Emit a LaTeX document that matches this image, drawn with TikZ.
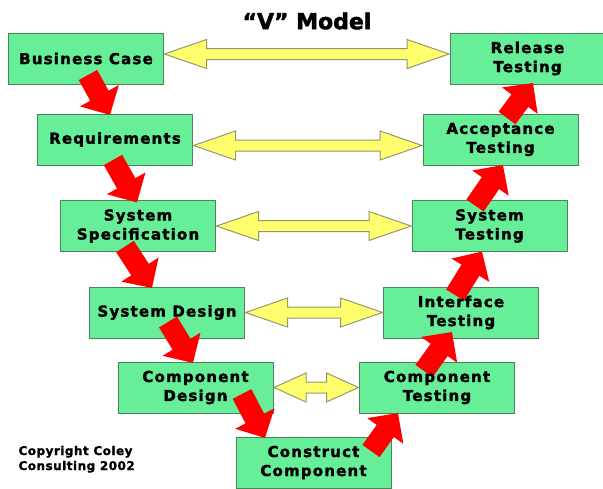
\documentclass[tikz,border=0pt]{standalone}
\usepackage{fontspec}
\setmainfont{DejaVu Sans}[BoldFeatures={FakeBold=2}]
\newfontfamily\vfont{DejaVu Sans}[LetterSpace=8,BoldFeatures={FakeBold=2}]
\newfontfamily\cfont{DejaVu Sans}[LetterSpace=4,BoldFeatures={FakeBold=1.5}]
\usetikzlibrary{calc,arrows.meta}
\definecolor{boxgreen}{RGB}{102,238,153}
\definecolor{boxline}{RGB}{80,130,90}
\definecolor{pale}{RGB}{255,255,110}
\definecolor{paleline}{RGB}{150,150,110}
\pgfdeclarelayer{bg}
\pgfdeclarelayer{mid}
\pgfsetlayers{bg,mid,main}
\tikzset{
  stage/.style={minimum width=155pt,minimum height=51pt,inner sep=0pt,outer sep=0pt,
    align=center,font=\vfont\bfseries\fontsize{15}{19}\selectfont},
  stagebox/.style={fill=boxgreen,draw=boxline,line width=1pt},
  flow/.style={red,line width=21pt,-{Triangle[width=43pt,length=22pt]}},
  pairarrow/.style={fill=pale,draw=paleline,line width=1pt,line join=miter}
}
\newcommand\link[4][42]{%
  \path ($(#2.east)+(1,#4)$) coordinate (l) ($(#3.west)+(-1,#4)$) coordinate (r);
  \draw[pairarrow] (l) -- ++(#1,-14.5) -- ++(0,9) -- ($(r)+(-#1,-5.5)$) -- ++(0,-9) -- (r)
    -- ++(-#1,14.5) -- ++(0,-9) -- ($(l)+(#1,5.5)$) -- ++(0,9) -- cycle;}
\begin{document}
\begin{tikzpicture}[x=1pt,y=-1pt]
\useasboundingbox (0,0) rectangle (603,488);
\node[font=\bfseries\fontsize{22}{26}\selectfont] (title) at (307,21) {“V” Model};
\node[stage] (bc) at (86,58.5) {Business Case};
\node[stage] (req) at (115,139.5) {Requirements};
\node[stage] (ss) at (138,226) {System\\Specification};
\node[stage] (sd) at (167,312.5) {System Design};
\node[stage] (cd) at (195.5,387.5) {Component\\Design};
\node[stage] (cc) at (313.5,462.5) {Construct\\Component};
\node[stage] (ct) at (437,387.5) {Component\\Testing};
\node[stage] (it) at (461,312.5) {Interface\\Testing};
\node[stage] (st) at (489.5,226) {System\\Testing};
\node[stage] (at) at (500.5,139.5) {Acceptance\\Testing};
\node[stage] (rt) at (527.5,58.5) {Release\\Testing};
\node[anchor=base west,align=left,font=\cfont\bfseries\fontsize{12}{15}\selectfont] (copy) at (15,470) {Copyright Coley\\Consulting 2002};
\begin{pgfonlayer}{bg}
\fill[white] (0,0) rectangle (603,488);
\foreach \n in {bc,req,ss,sd,cd,cc,ct,it,st,at,rt}
  \draw[stagebox] (\n.south west) rectangle (\n.north east);
\link{bc}{rt}{-4.5}
\link{req}{at}{6}
\link{ss}{st}{0}
\link{sd}{it}{0}
\link[32]{cd}{ct}{0}
\end{pgfonlayer}
\begin{pgfonlayer}{mid}
\draw[flow] ($(bc.south)+(2,-9)$) -- ($(req.north)+(-5,1)$);
\draw[flow] ($(req.south)+(-2,-5)$) -- ($(ss.north)+(-1,2)$);
\draw[flow] ($(ss.south)+(-13,-5)$) -- ($(sd.north)+(-15,1)$);
\draw[flow] ($(sd.south)+(1,-16)$) -- ($(cd.north)+(-2.5,1)$);
\draw[flow] ($(cd.south)+(46.5,-19)$) -- ($(cc.north)+(-48.5,1)$);
\draw[flow] ($(cc.north)+(57.5,14)$) -- ($(ct.south)+(-39,0)$);
\draw[flow] ($(ct.north)+(-13,9)$) -- ($(it.south)+(-9,-6)$);
\draw[flow] ($(it.north)+(-6,8)$) -- ($(st.south)+(-7.5,0)$);
\draw[flow] ($(st.north)+(-14.5,5)$) -- ($(at.south)+(2.5,0)$);
\draw[flow] ($(at.north)+(6.5,4)$) -- ($(rt.south)+(5.5,-1)$);
\end{pgfonlayer}
\end{tikzpicture}
\end{document}
